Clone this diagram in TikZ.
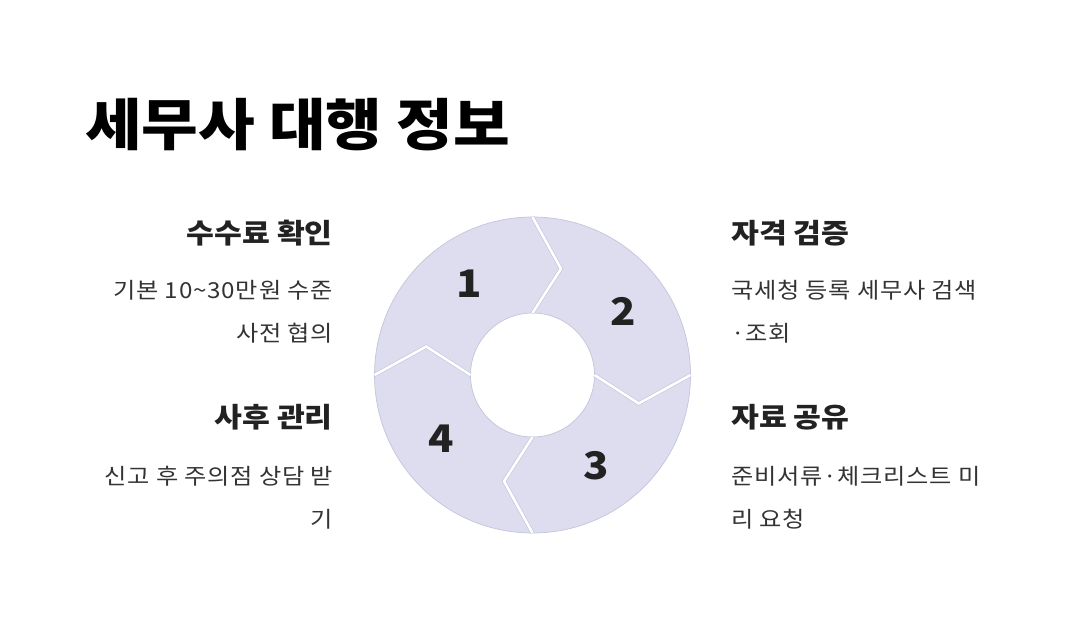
\documentclass[tikz,border=0pt]{standalone}
\usepackage{fontspec}
\setmainfont{Noto Sans CJK KR}[FakeStretch=1.1]
\newfontfamily\bodyfont{Noto Sans CJK KR}[FakeStretch=1.1, LetterSpace=3.5]
\usepackage{tikz}
\usetikzlibrary{positioning}

\definecolor{segfill}{RGB}{221,221,239}
\definecolor{segline}{RGB}{196,196,220}
\definecolor{headtxt}{RGB}{34,34,34}
\definecolor{bodytxt}{RGB}{51,51,51}

\begin{document}
\begin{tikzpicture}[x=1pt, y=1pt,
    seg/.style={fill=segfill, draw=segline, line width=0.7pt},
    cut/.style={draw=segline, line width=0.6pt, double=white, double distance=2.6pt, line join=miter},
    num/.style={font=\fontsize{38}{40}\selectfont\bfseries, text=headtxt, inner sep=0pt},
    title/.style={font=\fontsize{56}{60}\selectfont\bfseries, text=black, inner sep=0pt},
    head/.style={font=\fontsize{27.5}{30}\selectfont\bfseries, text=headtxt, inner sep=0pt},
    body/.style={font=\bodyfont\fontsize{22}{43}\selectfont, text=bodytxt, inner sep=0pt}
]
\useasboundingbox (0,0) rectangle (1068,630);

% Title
\node[title, anchor=west] (title) at (85,505) {세무사 대행 정보};

% Ring of four arrow segments
\begin{scope}[shift={(532.5,255)}]
\path[seg] (180:158) arc[start angle=180, end angle=90, radius=158] -- (75:110) -- (90:62)
    arc[start angle=90, end angle=180, radius=62] -- (165:110) -- cycle;
\path[seg] (90:158) arc[start angle=90, end angle=0, radius=158] -- (-15:110) -- (0:62)
    arc[start angle=0, end angle=90, radius=62] -- (75:110) -- cycle;
\path[seg] (0:158) arc[start angle=0, end angle=-90, radius=158] -- (-105:110) -- (-90:62)
    arc[start angle=-90, end angle=0, radius=62] -- (-15:110) -- cycle;
\path[seg] (-90:158) arc[start angle=-90, end angle=-180, radius=158] -- (165:110) -- (180:62)
    arc[start angle=180, end angle=270, radius=62] -- (-105:110) -- cycle;

% Gaps between the segments
\draw[cut] (90:158) -- (75:110) -- (90:62);
\draw[cut] (0:158) -- (-15:110) -- (0:62);
\draw[cut] (-90:158) -- (-105:110) -- (-90:62);
\draw[cut] (180:158) -- (165:110) -- (180:62);

% Step numbers
\node[num] (n1) at (125:111) {1};
\node[num] (n2) at (35:111) {2};
\node[num] (n3) at (-55:111) {3};
\node[num] (n4) at (215:111) {4};
\end{scope}

% Left side labels
\node[head, anchor=east] (fee) at (333,397) {수수료 확인};
\node[body, anchor=east, align=right] (feetxt) at (333,318) {기본 10\textasciitilde30만원 수준\\사전 협의};
\node[head, anchor=east] (after) at (333,213) {사후 관리};
\node[body, anchor=east, align=right] (aftertxt) at (333,132) {신고 후 주의점 상담 받\\기};

% Right side labels
\node[head, anchor=west] (check) at (731,397) {자격 검증};
\node[body, anchor=west, align=left] (checktxt) at (731,318) {국세청 등록 세무사 검색\\·조회};
\node[head, anchor=west] (share) at (731,213) {자료 공유};
\node[body, anchor=west, align=left] (sharetxt) at (731,132) {준비서류·체크리스트 미\\리 요청};

\end{tikzpicture}
\end{document}
